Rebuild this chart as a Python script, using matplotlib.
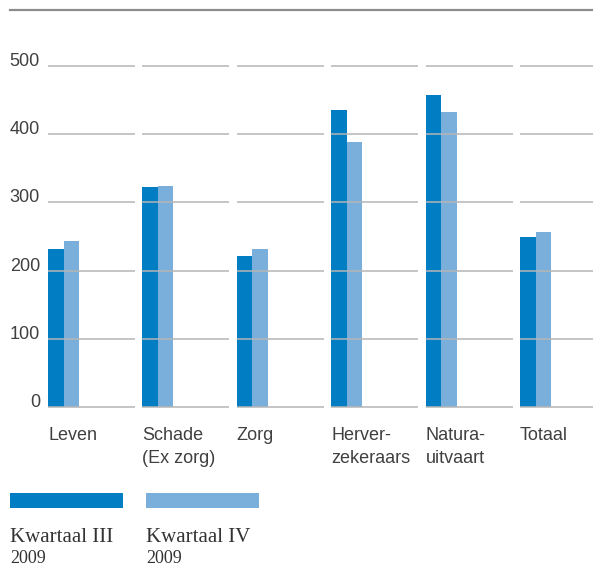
import matplotlib
matplotlib.use('Agg')
import matplotlib.pyplot as plt
from matplotlib.patches import Rectangle
from matplotlib.lines import Line2D

# data
categories = ['Leven', 'Schade\n(Ex zorg)', 'Zorg', 'Herver-\nzekeraars', 'Natura-\nuitvaart', 'Totaal']
kwartaal_3 = [232, 322, 222, 435, 457, 250]
kwartaal_4 = [244, 324, 231, 388, 432, 257]
series_names = ['Kwartaal III\n2009', 'Kwartaal IV\n2009']
yticks = [0, 100, 200, 300, 400, 500]

dark = '#007dc3'
light = '#7aaedb'
grid_col = '#b5b5b5'
txt_col = '#404040'

W, H = 593, 568
fig = plt.figure(figsize=(W / 100, H / 100), dpi=100)

# overlay in pixel coordinates for the frame line and legend
ov = fig.add_axes([0, 0, 1, 1])
ov.set_xlim(0, W)
ov.set_ylim(H, 0)
ov.axis('off')

# main axes: x in group units (one group = 94.4 px)
left, bottom_px, top_px, period = 48, 407, 66, 94.4
ax = fig.add_axes([left / W, (H - bottom_px) / H, (W - left) / W, (bottom_px - top_px) / H])
ax.set_xlim(0, (W - left) / period)
ax.set_ylim(0, 500)
for s in ax.spines.values():
    s.set_visible(False)
ax.patch.set_alpha(0)

bw = 15.5 / period
seg = 87 / period
for i in range(len(categories)):
    ax.bar(i + bw / 2, kwartaal_3[i], width=bw, color=dark, zorder=2, clip_on=False)
    ax.bar(i + bw * 1.5, kwartaal_4[i], width=bw, color=light, zorder=2, clip_on=False)
    ax.hlines(yticks, i, i + seg, colors=grid_col, linewidth=1.1, zorder=3, clip_on=False)
    lines = categories[i].split('\n')
    for k, ln in enumerate(lines):
        ax.annotate(ln, xy=(i, 0), xytext=(0, -(33 + 23 * k) * 0.72), textcoords='offset points',
                    ha='left', va='baseline', fontsize=13, family='Liberation Sans', color=txt_col,
                    annotation_clip=False)

ax.set_xticks([])
ax.set_yticks(yticks)
ax.set_yticklabels([str(t) for t in yticks], fontsize=13, family='Liberation Sans', color=txt_col)
ax.tick_params(axis='y', length=0, pad=8 * 0.72)
for t in ax.get_yticklabels():
    t.set_verticalalignment('baseline')

# top rule
ov.add_line(Line2D([10, W], [10, 10], color='#8c8c8c', linewidth=1.6))

# legend
for j, (name, col) in enumerate(zip(series_names, [dark, light])):
    x0 = 10 + 136 * j
    ov.add_patch(Rectangle((x0, 493), 113, 15, color=col, linewidth=0))
    first, second = name.split('\n')
    ov.text(x0, 542, first, fontsize=15, family='Liberation Serif', color='#333333', va='baseline')
    ov.text(x0, 563, second, fontsize=13, family='Liberation Serif', color='#333333', va='baseline')

fig.savefig('out.png', dpi=100)
